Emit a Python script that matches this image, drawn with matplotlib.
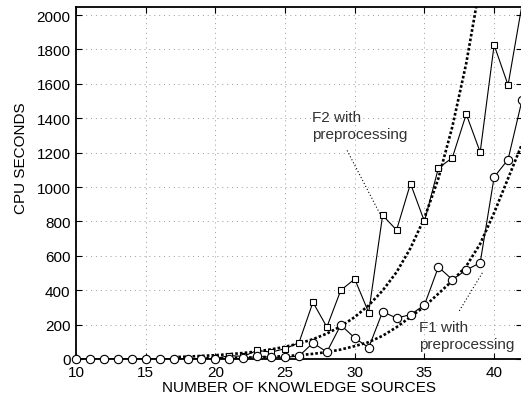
import matplotlib
matplotlib.use("Agg")
import matplotlib.pyplot as plt
import numpy as np

plt.rcParams['font.family'] = ['Liberation Sans', 'DejaVu Sans']

sources = list(range(10, 43))
f2_cpu = [0, 0, 0, 0, 0, 0, 0, 0, 0, 0, 2,
          20, 15, 50, 40, 60, 95, 330, 186, 400, 465,
          270, 836, 750, 1020, 800, 1110, 1170, 1424, 1203, 1826,
          1593, 2060]
f1_cpu = [0, 0, 0, 0, 0, 0, 0, 0, 0, 0, 0,
          2, 3, 15, 10, 10, 17, 93, 41, 198, 122,
          66, 275, 238, 258, 314, 535, 462, 517, 560, 1058,
          1160, 1505]

# fitted curves
fit2_x = list(range(17, 40))
fit2_y = [11, 14, 18, 22, 28, 35, 44, 56, 71, 90, 115, 148, 190, 244,
          312, 398, 505, 645, 820, 1050, 1350, 1720, 2180]
fit1_x = list(range(19, 43))
fit1_y = [4, 5, 6, 8, 10, 13, 17, 22, 30, 40, 55, 75, 98, 135, 185,
          245, 305, 380, 455, 540, 670, 850, 1050, 1250]

xticks = [10, 15, 20, 25, 30, 35, 40]
yticks = list(range(0, 2001, 200))
ymax = 2050

fig = plt.figure(figsize=(5.21, 4.02), dpi=100)
ax = fig.add_axes([76 / 521, 42 / 402, 446 / 521, 352.5 / 402])

ax.plot(fit2_x, fit2_y, color='black', lw=1.9, linestyle=(0, (1, 0.8)), zorder=3)
ax.plot(fit1_x, fit1_y, color='black', lw=1.9, linestyle=(0, (1, 0.8)), zorder=3)

for vals, mk, ms in [(f2_cpu, 's', 5), (f1_cpu, 'o', 6)]:
    vals = np.array(vals, dtype=float)
    ax.plot(sources, vals, color='black', lw=0.8, zorder=4)
    shown = np.where(vals <= ymax, vals, np.nan)
    ax.plot(sources, shown, linestyle='none', marker=mk, ms=ms, mfc='white',
            mec='black', mew=0.8, clip_on=False, zorder=5)

# annotation pointers
ax.plot([29.45, 31.8], [1213, 845], color='black', lw=0.8,
        linestyle=(0, (1, 2)), zorder=3)
ax.plot([37.5, 39.2], [280, 507], color='black', lw=0.8,
        linestyle=(0, (1, 2)), zorder=3)
ax.text(26.93, 1450, 'F2 with\npreprocessing', fontsize=11, color='#333333',
        va='top', ha='left', linespacing=1.3)
ax.text(34.6, 225, 'F1 with\npreprocessing', fontsize=11, color='#333333',
        va='top', ha='left', linespacing=1.2)

ax.set_xlim(10, 42)
ax.set_ylim(0, ymax)
ax.set_xticks(xticks)
ax.set_yticks(yticks)
ax.tick_params(direction='in', top=True, right=True, length=4, width=0.8,
               labelsize=11, pad=4)
ax.grid(True, color='#999999', lw=0.7, linestyle=(0, (1, 4)))
for sp in ax.spines.values():
    sp.set_linewidth(1.3)

ax.set_xlabel('NUMBER OF KNOWLEDGE SOURCES', fontsize=11, labelpad=1)
ax.set_ylabel('CPU SECONDS', fontsize=11)
ax.yaxis.set_label_coords(-0.108, 0.573)

fig.savefig('out.png', dpi=100)
